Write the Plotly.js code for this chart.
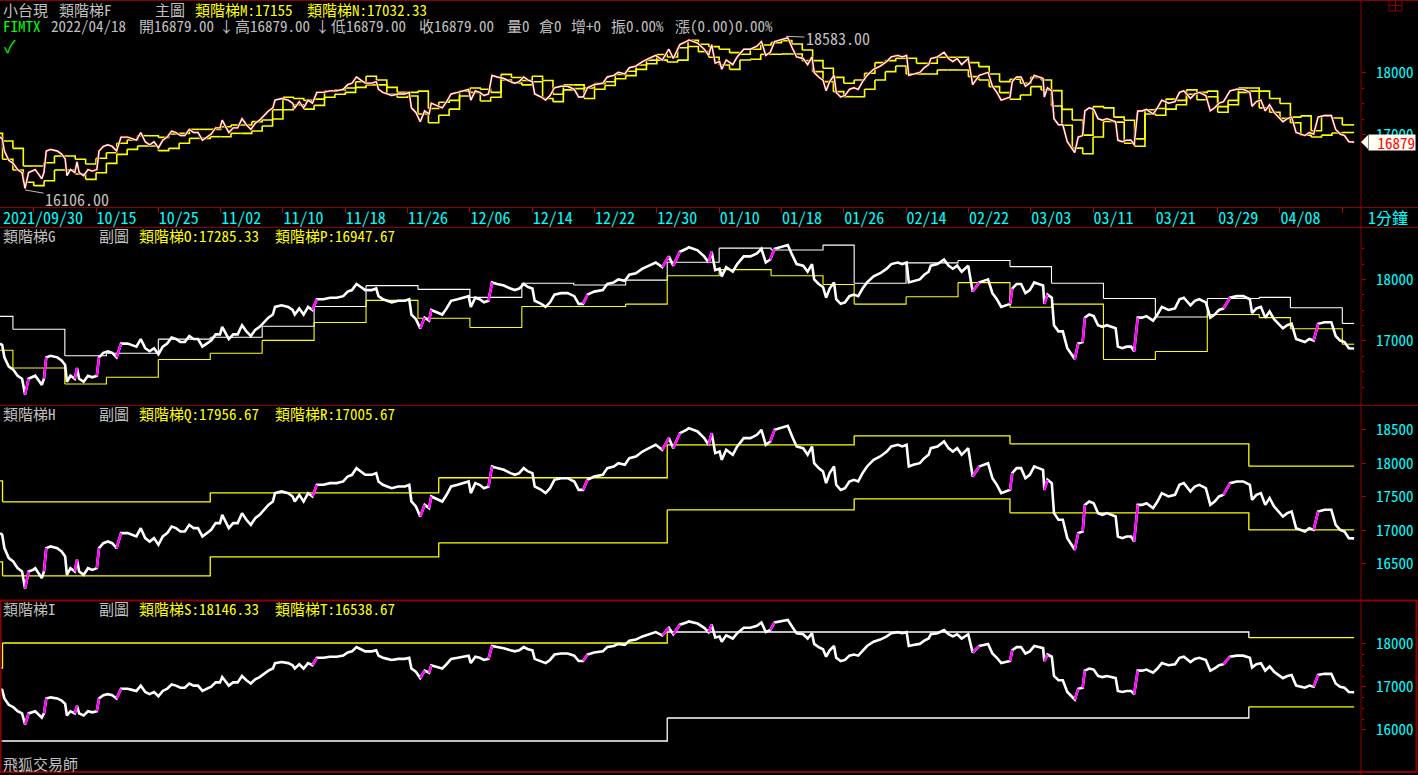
<!DOCTYPE html>
<html><head><meta charset="utf-8">
<script src="https://cdn.plot.ly/plotly-3.0.1.min.js"></script>
<style>html,body{margin:0;padding:0;background:#000;overflow:hidden}#chart{width:1418px;height:775px}</style>
</head><body><div id="chart"></div>
<script>
// ---------------- DATA (trading-day index: 0 = 2021/09/30) ----------------
const priceDay = [0.76,0.97,1.18,1.60,2.03,2.45,2.88,3.17,3.51,3.93,4.15,4.57,4.78,4.99,5.21,5.63,6.27,6.69,7.03,7.20,7.54,7.96,8.17,8.38,8.81,9.23,9.65,10.08,10.29,10.71,11.14,11.56,11.98,12.41,13.04,13.47,13.89,14.31,14.74,15.16,15.59,16.01,16.43,16.86,17.28,17.70,18.13,18.55,18.98,19.40,19.82,20.25,20.67,21.09,21.52,21.94,22.15,22.58,22.79,23.21,23.64,24.06,24.48,24.91,25.33,25.76,26.18,26.60,27.03,27.24,27.87,28.51,28.93,29.14,29.57,29.99,30.42,30.84,31.26,31.90,32.53,33.17,33.81,34.23,34.65,35.08,35.50,35.92,36.56,36.98,37.20,37.62,38.04,38.47,39.10,39.74,40.16,40.37,40.80,41.22,41.64,42.07,42.28,42.91,43.34,43.76,44.19,44.82,45.46,45.88,46.09,46.52,46.94,47.36,47.79,48.13,48.63,49.27,49.91,50.33,50.75,51.18,51.60,52.02,52.24,52.87,53.29,53.72,54.14,54.78,55.41,56.05,56.47,56.90,57.32,57.96,58.80,59.23,59.86,60.29,60.92,61.35,61.98,62.62,63.25,63.89,64.52,65.16,65.58,66.22,66.85,67.08,67.92,68.56,68.98,69.28,69.62,70.04,70.25,70.68,71.31,71.74,72.37,73.01,73.64,74.07,74.49,74.92,75.34,75.98,76.61,77.03,77.46,78.09,78.52,78.94,79.15,79.58,80.00,80.30,80.64,81.06,81.27,81.70,82.12,82.54,82.97,83.39,83.81,84.24,84.87,85.51,86.14,86.57,87.20,87.63,88.05,88.26,88.69,89.32,89.75,90.17,90.38,91.02,91.65,92.08,92.50,92.92,93.35,93.98,94.41,95.04,95.47,95.89,96.31,96.74,97.16,97.58,98.01,98.22,98.64,99.07,99.49,99.91,100.34,100.76,101.19,101.31,101.61,102.03,102.24,102.67,103.09,103.52,103.94,104.24,104.57,105.00,105.21,105.63,106.06,106.48,106.90,107.33,107.75,108.18,108.39,108.81,109.24,109.66,109.96,110.30,110.72,111.14,111.78,112.20,112.62,113.26,113.89,114.32,114.74,115.38,115.80,116.23,116.86,117.29,117.71,118.13,118.56,119.19,119.83,120.46,121.10,121.31,121.73,122.16,122.58,123.00,123.43,123.85,124.28,124.70,125.12,125.55,125.97,126.40,126.82,127.24,127.67,128.30,128.94,129.36,129.79,130.21,130.63,131.14];
const priceVal = [16958,16933,16734,16585,16535,16435,16386,16130,16386,16410,16435,16336,16286,16386,16734,16759,16734,16684,16609,16336,16435,16386,16560,16386,16336,16435,16410,16435,16734,16808,16833,16808,16734,16958,16958,16933,16908,17032,16883,16833,16883,16784,16908,16958,17057,17032,16983,16983,17082,17032,17032,16908,16958,17007,17107,17107,17231,17082,17032,17107,17107,17256,17157,17082,17181,17231,17306,17380,17430,17555,17580,17555,17505,17430,17530,17430,17555,17505,17679,17679,17704,17704,17729,17803,17828,17928,17878,17828,17828,17853,17729,17679,17654,17629,17654,17654,17679,17430,17356,17206,17380,17331,17505,17455,17430,17530,17654,17679,17704,17729,17555,17704,17679,17629,17654,17953,17928,17903,17853,17828,17853,17928,17878,17853,17654,17604,17555,17629,17754,17778,17778,17729,17604,17604,17754,17803,17828,17928,17953,18002,17978,18077,18102,18176,18226,18276,18201,18376,18226,18450,18500,18525,18475,18376,18276,18450,18152,18176,18052,18201,18127,18251,18376,18376,18425,18500,18276,18326,18500,18525,18560,18400,18251,18226,18127,18251,18002,17928,17878,17704,17853,17953,17679,17604,17629,17729,17754,17729,17853,17953,18052,18102,18176,18251,18276,18251,18276,17953,17978,18002,18077,18127,18226,18251,18326,18226,18176,18226,18127,18226,17803,17953,17978,18002,17778,17679,17555,17580,17604,17853,17928,17928,17778,17828,17953,17928,17903,17604,17754,17704,17256,17157,17157,16883,16784,16709,16958,16983,17380,17430,17405,17256,17231,17256,17231,17206,16908,16883,16908,16908,16833,17380,17380,17405,17331,17430,17555,17505,17530,17679,17704,17580,17654,17679,17629,17380,17430,17505,17530,17704,17729,17729,17679,17455,17530,17555,17380,17480,17356,17281,17206,17256,17281,17032,17007,16983,17032,17007,17281,17306,17306,17082,17007,16983,16883,16879];

// x-axis date ticks (trading-day index -> label)
const tickDays   = [4,10,16,22,28,34,40,46,52,58,64,70,76,82,88,94,100,106,112,118,124,130];
const tickLabels = ['','10/15','10/25','11/02','11/10','11/18','11/26','12/06','12/14','12/22','12/30','01/10','01/18','01/26','02/14','02/22','03/03','03/11','03/21','03/29','04/08',''];
const firstDateLabel = '2021/09/30';

// daily ladder (main panel, M / N): one value per trading day 0..130
const ladderM = [17019,16895,16777,16492,16492,16545,16653,16653,16600,16524,16616,16707,16858,16911,16981,16981,16954,17008,17019,17083,17083,17083,17126,17153,17153,17207,17234,17400,17600,17580,17550,17570,17700,17720,17750,17850,17940,17880,17760,17680,17680,17700,17420,17520,17550,17700,17750,17730,17680,17970,17920,17870,17940,17870,17650,17800,17800,17750,17820,17850,17970,18020,18120,18200,18290,18250,18400,18520,18455,18417,18374,18320,18293,18374,18444,18481,18514,18460,18363,18191,18068,17922,17826,17879,17987,18159,18191,18229,18229,18148,18148,18245,18245,18245,18159,18094,17976,17852,17890,17826,17922,17879,17707,17406,17234,16990,17450,17430,17280,17230,16930,17400,17420,17570,17550,17720,17680,17700,17450,17550,17750,17750,17700,17580,17500,17280,17300,17060,17300,17266,17155];
const ladderN = [16950,16600,16428,16229,16175,16255,16428,16428,16363,16277,16384,16535,16680,16761,16815,16815,16740,16777,16858,16938,16938,16965,16965,17019,17019,17056,17137,17250,17400,17480,17410,17470,17600,17650,17680,17760,17800,17800,17650,17600,17620,17330,17190,17310,17410,17620,17680,17540,17600,17880,17830,17800,17850,17580,17530,17720,17740,17580,17730,17790,17900,17950,18050,18140,18200,18170,18200,18420,18336,18245,18121,18051,18202,18213,18293,18293,18299,18299,18191,18014,17852,17691,17610,17610,17729,17879,18014,18105,17976,17976,17976,18041,18041,18041,17933,17879,17772,17675,17568,17637,17772,17718,17460,17150,16780,16690,16960,17210,17200,16860,16810,17330,17310,17410,17480,17650,17560,17610,17360,17480,17680,17700,17430,17360,17260,17190,16990,16960,16990,17024,17032.33];

// weekly ladder (panel G, O / P): week start days and values
const weekStart = [0.76,2,7,11,16,21,26,31,36,41,46,51,56,61,65,70,75,80,83,88,93,98,102,107,112,117,122,125,130];
const ladderO = [17400,17190,16760,16800,17030,17060,17240,17560,17900,17840,17710,17940,17910,17990,18280,18510,18480,18560,17940,18270,18310,18210,17940,17690,17390,17690,17710,17540,17285.33];
const ladderP = [16850,16560,16300,16410,16700,16800,17010,17300,17660,17370,17220,17560,17560,17600,18060,18160,18060,17920,17600,17720,17950,17550,17600,16700,16830,17430,17380,17200,16947.67];

// monthly ladder (panel H)
const monthStart = [0.76,1,21,43,65,83,98,121];
const ladderQ = [17739,17425,17560,17784,18276,18410,18291,17956.67];
const ladderR = [16530,16321,16604,16813,17306,17470,17261,17005.67];
// quarterly ladder (panel I)
const quarterStart = [0.76,1,65,121];
const ladderS = [17442,18023,18279,18146.33];
const ladderT = [15744,15744,16279,16538.67];

// header quote
const quoteDate = '2022/04/18';
const lastOpen = 16879.00, lastHigh = 16879.00, lastLow = 16879.00, lastClose = 16879.00;
const lowMark = {day:3.17, val:16106.00}, highMark = {day:76.43, val:18583.00};

// ---------------- STYLE ----------------
const W=1418, H=775, PW=1361;
const FONT='"Noto Sans Mono CJK TC","Noto Sans Mono CJK SC","Liberation Sans Narrow","Noto Sans CJK TC",monospace';
const RED='#8c0000', CYAN='#00ffff', GRAY='#c0c0c0', YEL='#ffff00', GREEN='#00ff00', WHITE='#ffffff', MAG='#ff00ff';
const px=p=>p/PW, py=p=>1-p/H;
const dom=(t,b)=>[1-b/H,1-t/H];
const endDay = priceDay[priceDay.length-1];
const dayStart = ladderM.map((_,i)=> i===0 ? priceDay[0] : i);

function stepTraces(starts, vals, colors, yaxis, width){
  const g={};
  for(let i=0;i<vals.length;i++){
    const x0=starts[i], x1=(i+1<starts.length)?starts[i+1]:endDay, c=colors[i];
    if(!g[c]) g[c]={x:[],y:[]};
    g[c].x.push(x0,x1); g[c].y.push(vals[i],vals[i]);
    if(i+1<vals.length){ g[c].x.push(x1); g[c].y.push(vals[i+1]); }
    g[c].x.push(null); g[c].y.push(null);
  }
  return Object.keys(g).map(c=>({x:g[c].x,y:g[c].y,xaxis:'x',yaxis,mode:'lines',line:{color:c,width:width||1.3},hoverinfo:'skip',connectgaps:false}));
}
function riseSegs(){ // highlight sharp rises in magenta
  const x=[],y=[];
  for(let i=0;i+1<priceVal.length;i++){
    if(priceVal[i+1]-priceVal[i]>=150){ x.push(priceDay[i],priceDay[i+1],null); y.push(priceVal[i],priceVal[i+1],null); }
  }
  return {x,y};
}
const rs = riseSegs();
const traces=[];
// main panel
traces.push(...stepTraces(dayStart,ladderM,ladderM.map(()=>YEL),'y',1.6));
traces.push(...stepTraces(dayStart,ladderN,ladderN.map(()=>YEL),'y',1.6));
traces.push({x:priceDay,y:priceVal,xaxis:'x',yaxis:'y',mode:'lines',line:{color:'#990000',width:2.6},hoverinfo:'skip'});
traces.push({x:priceDay,y:priceVal,xaxis:'x',yaxis:'y',mode:'lines',line:{color:WHITE,width:1.4},hoverinfo:'skip'});
// sub panels: ladders first, price on top
traces.push(...stepTraces(weekStart,ladderO,ladderO.map(()=>WHITE),'y2',1.1));
traces.push(...stepTraces(weekStart,ladderP,ladderP.map(()=>YEL),'y2',1.1));
traces.push(...stepTraces(monthStart,ladderQ,ladderQ.map(()=>YEL),'y3'));
traces.push(...stepTraces(monthStart,ladderR,ladderR.map(()=>YEL),'y3'));
traces.push(...stepTraces(quarterStart,ladderS,[YEL,YEL,WHITE,YEL],'y4'));
traces.push(...stepTraces(quarterStart,ladderT,[WHITE,WHITE,WHITE,YEL],'y4'));
['y2','y3','y4'].forEach(ya=>{
  traces.push({x:priceDay,y:priceVal,xaxis:'x',yaxis:ya,mode:'lines',line:{color:WHITE,width:2.6},hoverinfo:'skip'});
  traces.push({x:rs.x,y:rs.y,xaxis:'x',yaxis:ya,mode:'lines',line:{color:MAG,width:2.4},hoverinfo:'skip'});
});

function yax(domain,range,tv,minor){
  const a={domain,range,side:'right',anchor:'x',showgrid:false,zeroline:false,showline:false,fixedrange:true,
    tickmode:'array',tickvals:tv,ticktext:tv.map(String),ticks:'outside',ticklen:4,tickwidth:1,tickcolor:'#b00000',
    tickfont:{family:FONT,size:15,color:CYAN},ticklabelstandoff:7};
  if(minor) a.minor={tickmode:'array',tickvals:minor,ticks:'outside',ticklen:2,tickwidth:1,tickcolor:'#b00000'};
  return a;
}
const ann=[];
function T(x,y,text,color,size){ ann.push({xref:'paper',yref:'paper',x:px(x),y:py(y),xanchor:'left',yanchor:'middle',text,showarrow:false,font:{family:FONT,size:size||15,color},borderpad:0}); }
const cell=c=>2+8*c;
// header rows
T(cell(0),9.5,'小台現',GRAY); T(cell(7),9.5,'類階梯F',GRAY); T(cell(19),9.5,'主圖',GRAY);
T(cell(24),9.5,'類階梯M:'+ladderM[ladderM.length-1],YEL); T(cell(38),9.5,'類階梯N:'+ladderN[ladderN.length-1].toFixed(2),YEL);
T(cell(0),25.5,'FIMTX',GREEN); T(cell(6),25.5,quoteDate,GRAY);
T(cell(17),25.5,'開'+lastOpen.toFixed(2),GRAY); T(cell(27),25.5,'↓',GRAY); T(cell(29),25.5,'高'+lastHigh.toFixed(2),GRAY);
T(cell(39),25.5,'↓',GRAY); T(cell(41),25.5,'低'+lastLow.toFixed(2),GRAY); T(cell(52),25.5,'收'+lastClose.toFixed(2),GRAY);
T(cell(63),25.5,'量0',GRAY); T(cell(67),25.5,'倉0',GRAY); T(cell(71),25.5,'增+0',GRAY); T(cell(76),25.5,'振0.00%',GRAY); T(cell(84),25.5,'漲(0.00)0.00%',GRAY);
T(3,46,'✓',GREEN,17);
// panel headers
T(cell(0),236,'類階梯G',GRAY); T(cell(12),236,'副圖',GRAY); T(cell(17),236,'類階梯O:'+ladderO[ladderO.length-1].toFixed(2),YEL); T(cell(34),236,'類階梯P:'+ladderP[ladderP.length-1].toFixed(2),YEL);
T(cell(0),413,'類階梯H',GRAY); T(cell(12),413,'副圖',GRAY); T(cell(17),413,'類階梯Q:'+ladderQ[ladderQ.length-1].toFixed(2),YEL); T(cell(34),413,'類階梯R:'+ladderR[ladderR.length-1].toFixed(2),YEL);
T(cell(0),608,'類階梯I',GRAY); T(cell(12),608,'副圖',GRAY); T(cell(17),608,'類階梯S:'+ladderS[ladderS.length-1].toFixed(2),YEL); T(cell(34),608,'類階梯T:'+ladderT[ladderT.length-1].toFixed(2),YEL);
T(2,763,'飛狐交易師',GRAY,15);
T(2,217,firstDateLabel,CYAN,16);
T(1367,217,'1分鐘',CYAN,16);
// high / low marks
ann.push({xref:'x',yref:'y',x:lowMark.day,y:lowMark.val,text:lowMark.val.toFixed(2),showarrow:true,arrowhead:0,arrowwidth:1,arrowcolor:GRAY,ax:52,ay:9,font:{family:FONT,size:16,color:GRAY}});
ann.push({xref:'x',yref:'y',x:highMark.day,y:highMark.val,text:highMark.val.toFixed(2),showarrow:true,arrowhead:0,arrowwidth:1,arrowcolor:GRAY,ax:52,ay:2,font:{family:FONT,size:16,color:GRAY}});
// last price tag
ann.push({xref:'paper',yref:'y',x:px(1368),y:lastClose,xanchor:'left',yanchor:'middle',text:String(lastClose),showarrow:false,bgcolor:'#fffff4',width:46,height:15,align:'right',borderpad:0,font:{family:FONT,size:15,color:'#ff0000'}});

const shapes=[];
const L=(x0,y0,x1,y1,w,c)=>shapes.push({type:'line',xref:'paper',yref:'paper',x0:px(x0),y0:py(y0),x1:px(x1),y1:py(y1),line:{color:c||RED,width:w||1}});
L(0,0.5,1418,0.5); L(0,207.5,1418,207.5); L(0,227.5,1418,227.5); L(0,405.5,1418,405.5);
L(1361,0,1361,775);
shapes.push({type:'rect',xref:'paper',yref:'paper',x0:px(0.5),x1:px(1416.5),y0:py(600.5),y1:py(772),line:{color:RED,width:2}});
shapes.push({type:'rect',xref:'paper',yref:'paper',x0:px(1389),x1:px(1402),y0:py(0.5),y1:py(11),line:{color:RED,width:1}});
L(1395.5,0,1395.5,11); L(1389,5.5,1402,5.5);
// tag pointer
const tagHalf = 7/62*1000;
shapes.push({type:'path',xref:'paper',yref:'y',path:`M ${px(1361)} ${lastClose} L ${px(1368)} ${lastClose+tagHalf} L ${px(1368)} ${lastClose-tagHalf} Z`,fillcolor:'#fffff4',line:{width:0}});

const layout={
  width:W,height:H,margin:{l:0,r:W-PW,t:0,b:0},paper_bgcolor:'#000',plot_bgcolor:'#000',showlegend:false,
  font:{family:FONT,color:GRAY},
  xaxis:{range:[0.757,131.8],anchor:'y',showgrid:false,zeroline:false,showline:false,fixedrange:true,
    tickmode:'array',tickvals:tickDays,ticktext:tickLabels,ticks:'outside',ticklen:5,tickwidth:1,tickcolor:'#b00000',
    tickfont:{family:FONT,size:16,color:CYAN},ticklabelposition:'outside right',ticklabelstandoff:-3},
  yaxis: yax(dom(0,207),[15831,19169],[17000,18000],[17250,17500,17750]),
  yaxis2:yax(dom(227,405),[15959,18854],[17000,18000],[16250,16500,16750,17250,17500,17750,18250,18500]),
  yaxis3:yax(dom(405,600),[15960,18870],[16500,17000,17500,18000,18500]),
  yaxis4:yax(dom(600,772),[15023,19023],[16000,17000,18000],[16250,16500,16750,17250,17500,17750]),
  annotations:ann, shapes
};
Plotly.newPlot('chart',traces,layout,{staticPlot:true,displayModeBar:false});
</script></body></html>
